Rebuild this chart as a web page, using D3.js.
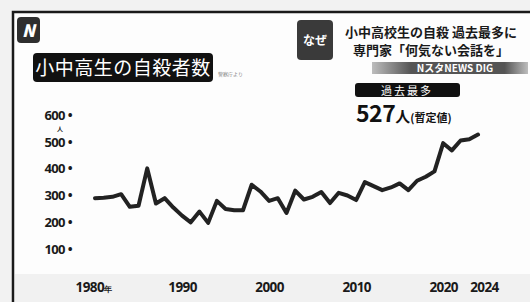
<!DOCTYPE html>
<html>
<head>
<meta charset="utf-8">
<script src="https://cdn.jsdelivr.net/npm/d3@7"></script>
<style>
  body { margin: 0; background: #f2f2f2; }
  svg { display: block; }
  text { font-family: "Noto Sans CJK JP", "Noto Sans", sans-serif; }
</style>
</head>
<body>
<div id="chart"></div>
<script>
let width = 530, height = 302

// data
let years = d3.range(1980, 2025)
let suicides = [290, 292, 295, 305, 258, 262, 401, 270, 290, 255,
  225, 200, 240, 198, 280, 250, 245, 245, 340, 315,
  280, 290, 235, 318, 285, 295, 313, 272, 310, 300,
  283, 350, 335, 320, 330, 345, 320, 355, 370, 390,
  495, 468, 505, 510, 527]
let yTicks = [100, 200, 300, 400, 500, 600]
let xTicks = [1980, 1990, 2000, 2010, 2020, 2024]

let data = years.map((yr, i) => ({ year: yr, value: suicides[i] }))

let svg = d3.select('#chart')
  .append('svg')
  .attr('width', width)
  .attr('height', height)

let defs = svg.append('defs')
defs.append('filter').attr('id', 'soft')
  .append('feGaussianBlur').attr('stdDeviation', 0.6)
let grad = defs.append('linearGradient').attr('id', 'digbar')
grad.append('stop').attr('offset', '0%').attr('stop-color', '#bdbdbd')
grad.append('stop').attr('offset', '25%').attr('stop-color', '#555')
grad.append('stop').attr('offset', '85%').attr('stop-color', '#555')
grad.append('stop').attr('offset', '100%').attr('stop-color', '#bdbdbd')

// panel
svg.append('rect')
  .attr('x', 13).attr('y', 12)
  .attr('width', width).attr('height', height)
  .attr('fill', '#fdfdfd')
svg.append('path')
  .attr('d', 'M13,' + height + 'V12H' + width)
  .attr('fill', 'none')
  .attr('stroke', '#1a1a1a')
  .attr('stroke-width', 2.5)

// faint band behind year labels
svg.append('rect')
  .attr('x', 15).attr('y', 274)
  .attr('width', width).attr('height', 28)
  .attr('fill', '#f1f1f1')

// logo
svg.append('rect')
  .attr('x', 17).attr('y', 17).attr('width', 23).attr('height', 26)
  .attr('rx', 4).attr('fill', '#2e2e2e')
svg.append('text')
  .attr('x', 28.5).attr('y', 37)
  .attr('text-anchor', 'middle')
  .attr('fill', '#fff')
  .style('font-size', '17px').style('font-weight', 900).style('font-style', 'italic')
  .text('N')

// title
svg.append('rect')
  .attr('x', 33).attr('y', 53).attr('width', 180).attr('height', 29)
  .attr('rx', 4).attr('fill', '#111')
svg.append('text')
  .attr('x', 123).attr('y', 75)
  .attr('text-anchor', 'middle')
  .attr('fill', '#fff')
  .style('font-size', '19px').style('letter-spacing', '0.5px')
  .text('小中高生の自殺者数')
svg.append('text')
  .attr('x', 218).attr('y', 76)
  .attr('fill', '#888')
  .style('font-size', '5px')
  .text('警察庁より')

// headline top right
svg.append('rect')
  .attr('x', 297).attr('y', 20).attr('width', 36).attr('height', 40)
  .attr('rx', 4).attr('fill', '#3a3a3a')
svg.append('text')
  .attr('x', 315).attr('y', 45)
  .attr('text-anchor', 'middle')
  .attr('fill', '#fff')
  .style('font-size', '12px').style('font-weight', 700)
  .text('なぜ')
svg.append('text')
  .attr('x', 431).attr('y', 37)
  .attr('text-anchor', 'middle')
  .attr('fill', '#1a1a1a')
  .style('font-size', '13px').style('font-weight', 700)
  .text('小中高校生の自殺 過去最多に')
svg.append('text')
  .attr('x', 431).attr('y', 55)
  .attr('text-anchor', 'middle')
  .attr('fill', '#1a1a1a')
  .style('font-size', '13px').style('font-weight', 700)
  .text('専門家「何気ない会話を」')
svg.append('rect')
  .attr('x', 372).attr('y', 62).attr('width', 156).attr('height', 12)
  .attr('fill', 'url(#digbar)')
svg.append('text')
  .attr('x', 455).attr('y', 72)
  .attr('text-anchor', 'middle')
  .attr('fill', '#fff')
  .style('font-size', '10px').style('font-weight', 700)
  .text('NスタNEWS DIG')

// record callout
svg.append('rect')
  .attr('x', 355).attr('y', 83).attr('width', 105).attr('height', 14)
  .attr('rx', 3).attr('fill', '#111')
svg.append('text')
  .attr('x', 407).attr('y', 94.5)
  .attr('text-anchor', 'middle')
  .attr('fill', '#fff')
  .style('font-size', '11px').style('letter-spacing', '2px')
  .text('過去最多')
let rec = svg.append('text')
  .attr('x', 356).attr('y', 122)
  .attr('fill', '#111')
  .style('font-weight', 700)
rec.append('tspan').style('font-size', '23px').style('letter-spacing', '-0.5px').text(d3.max(suicides))
rec.append('tspan').style('font-size', '15px').text('人')
rec.append('tspan').style('font-size', '11px').text('(暫定値)')

// scales
let x = d3.scaleLinear().domain([1980, 2024]).range([95, 478])
let y = d3.scaleLinear().domain([0, 600]).range([276, 115])

let yAxis = svg.append('g')
  .attr('transform', 'translate(72,0)')
  .call(d3.axisLeft(y).tickValues(yTicks).tickSize(0).tickPadding(0)
    .tickFormat(d => d + ' •'))
yAxis.select('.domain').remove()
yAxis.selectAll('text')
  .attr('fill', '#1a1a1a')
  .style('font-family', '"Noto Sans", sans-serif')
  .style('font-size', '13px').style('font-weight', 700)
  .style('letter-spacing', '-0.6px')

svg.append('text')
  .attr('x', 60).attr('y', 130.5)
  .attr('text-anchor', 'middle')
  .attr('fill', '#1a1a1a')
  .style('font-size', '6px').style('font-weight', 700)
  .text('人')

let xAxis = svg.append('g')
  .attr('transform', 'translate(0,280)')
  .call(d3.axisBottom(x).tickValues(xTicks).tickSize(0).tickPadding(0)
    .tickFormat(d => d))
xAxis.select('.domain').remove()
xAxis.selectAll('text')
  .attr('fill', '#1a1a1a')
  .attr('dy', 12)
  .attr('dx', d => d === 2024 ? 6 : 0)
  .style('font-family', '"Noto Sans", sans-serif')
  .style('font-size', '13.5px').style('font-weight', 700)
  .style('letter-spacing', '-0.6px')
xAxis.selectAll('.tick').filter(d => d === 1980).select('text')
  .attr('dx', -2)
  .append('tspan').style('font-size', '8px').text('年')

// line
svg.append('path')
  .datum(data)
  .attr('fill', 'none')
  .attr('stroke', '#222')
  .attr('stroke-width', 4)
  .attr('stroke-linejoin', 'round')
  .attr('stroke-linecap', 'round')
  .attr('filter', 'url(#soft)')
  .attr('d', d3.line().x(d => x(d.year)).y(d => y(d.value)))
</script>
</body>
</html>
